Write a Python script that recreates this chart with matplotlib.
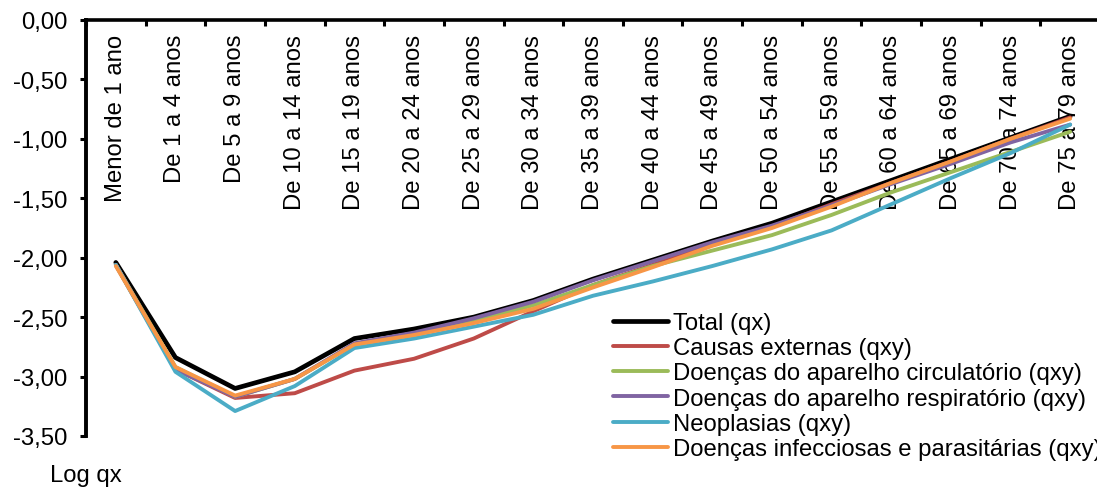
import matplotlib
matplotlib.use("Agg")
import matplotlib.pyplot as plt
import numpy as np

plt.rcParams['font.family'] = ['Liberation Sans', 'DejaVu Sans']

categories = ["Menor de 1 ano", "De 1 a 4 anos", "De 5 a 9 anos", "De 10 a 14 anos",
              "De 15 a 19 anos", "De 20 a 24 anos", "De 25 a 29 anos", "De 30 a 34 anos",
              "De 35 a 39 anos", "De 40 a 44 anos", "De 45 a 49 anos", "De 50 a 54 anos",
              "De 55 a 59 anos", "De 60 a 64 anos", "De 65 a 69 anos", "De 70 a 74 anos",
              "De 75 a 79 anos"]

total = [-2.04, -2.84, -3.10, -2.96, -2.68, -2.60, -2.50, -2.36, -2.18, -2.02, -1.86, -1.71,
         -1.53, -1.35, -1.17, -0.99, -0.81]
causas_externas = [-2.06, -2.94, -3.18, -3.14, -2.95, -2.85, -2.68, -2.45, -2.23, -2.06, -1.89,
                   -1.74, -1.55, -1.37, -1.19, -1.00, -0.82]
circulatorio = [-2.06, -2.92, -3.17, -3.02, -2.73, -2.65, -2.53, -2.40, -2.23, -2.07, -1.94,
                -1.81, -1.64, -1.45, -1.28, -1.11, -0.94]
respiratorio = [-2.06, -2.94, -3.17, -3.02, -2.72, -2.63, -2.51, -2.37, -2.19, -2.03, -1.87,
                -1.73, -1.56, -1.38, -1.21, -1.03, -0.88]
neoplasias = [-2.06, -2.96, -3.29, -3.08, -2.76, -2.68, -2.58, -2.48, -2.32, -2.20, -2.07,
              -1.93, -1.77, -1.55, -1.33, -1.12, -0.88]
infecciosas = [-2.07, -2.92, -3.16, -3.02, -2.73, -2.65, -2.55, -2.43, -2.25, -2.08, -1.90,
               -1.75, -1.57, -1.37, -1.19, -1.00, -0.83]

series_names = ["Total (qx)", "Causas externas (qxy)", "Doenças do aparelho circulatório (qxy)",
                "Doenças do aparelho respiratório (qxy)", "Neoplasias (qxy)",
                "Doenças infecciosas e parasitárias (qxy)"]
series_values = [total, causas_externas, circulatorio, respiratorio, neoplasias, infecciosas]
series_colors = ["#000000", "#BE4B48", "#9BBB59", "#8064A2", "#4BACC6", "#F79646"]
series_widths = [3.4, 2.8, 2.8, 2.8, 2.8, 2.8]

y_ticks = [0.0, -0.5, -1.0, -1.5, -2.0, -2.5, -3.0, -3.5]

FS = 17.2
W, H = 1097, 489
fig = plt.figure(figsize=(W / 100, H / 100), dpi=100)
ax = fig.add_axes([86 / W, 1 - 437 / H, 1014 / W, 416 / H])

x = np.arange(len(categories))
for name, vals, col, lw in zip(series_names, series_values, series_colors, series_widths):
    ax.plot(x, vals, color=col, lw=lw, label=name, solid_joinstyle='round',
            solid_capstyle='round', clip_on=False)

ax.set_xlim(-0.5, len(categories) - 0.5)
ax.set_ylim(-3.5, 0)

ax.spines['right'].set_visible(False)
ax.spines['bottom'].set_visible(False)
ax.spines['top'].set_linewidth(2.6)
ax.spines['left'].set_linewidth(2.8)

ax.set_yticks(y_ticks)
ax.set_yticklabels([("%.2f" % v).replace('.', ',') if v != 0 else "0,00" for v in y_ticks])
ax.tick_params(axis='y', direction='out', length=4.5, width=2.2, pad=9, labelsize=FS)

ax.set_xticks(x)
ax.set_xticklabels(categories)
ax.set_xticks(np.arange(len(categories) + 1) - 0.5, minor=True)
ax.tick_params(axis='x', which='major', top=True, bottom=False, labeltop=True,
               labelbottom=False, length=0, pad=-10, labelrotation=90, labelsize=FS)
ax.tick_params(axis='x', which='minor', top=True, bottom=False, direction='in',
               length=4.5, width=2.2)
for lbl in ax.get_xticklabels():
    lbl.set_va('top')
    lbl.set_ha('center')

leg = fig.legend(loc='upper left', bbox_to_anchor=(613 / W, 1 - 313 / H),
                 frameon=False, fontsize=FS, handlelength=2.3, handletextpad=0.2,
                 labelspacing=0.135, borderpad=0, borderaxespad=0)

fig.text(50 / W, 1 - 476 / H, "Log qx", fontsize=FS, va='center', ha='left')

fig.savefig("out.png", dpi=100)
